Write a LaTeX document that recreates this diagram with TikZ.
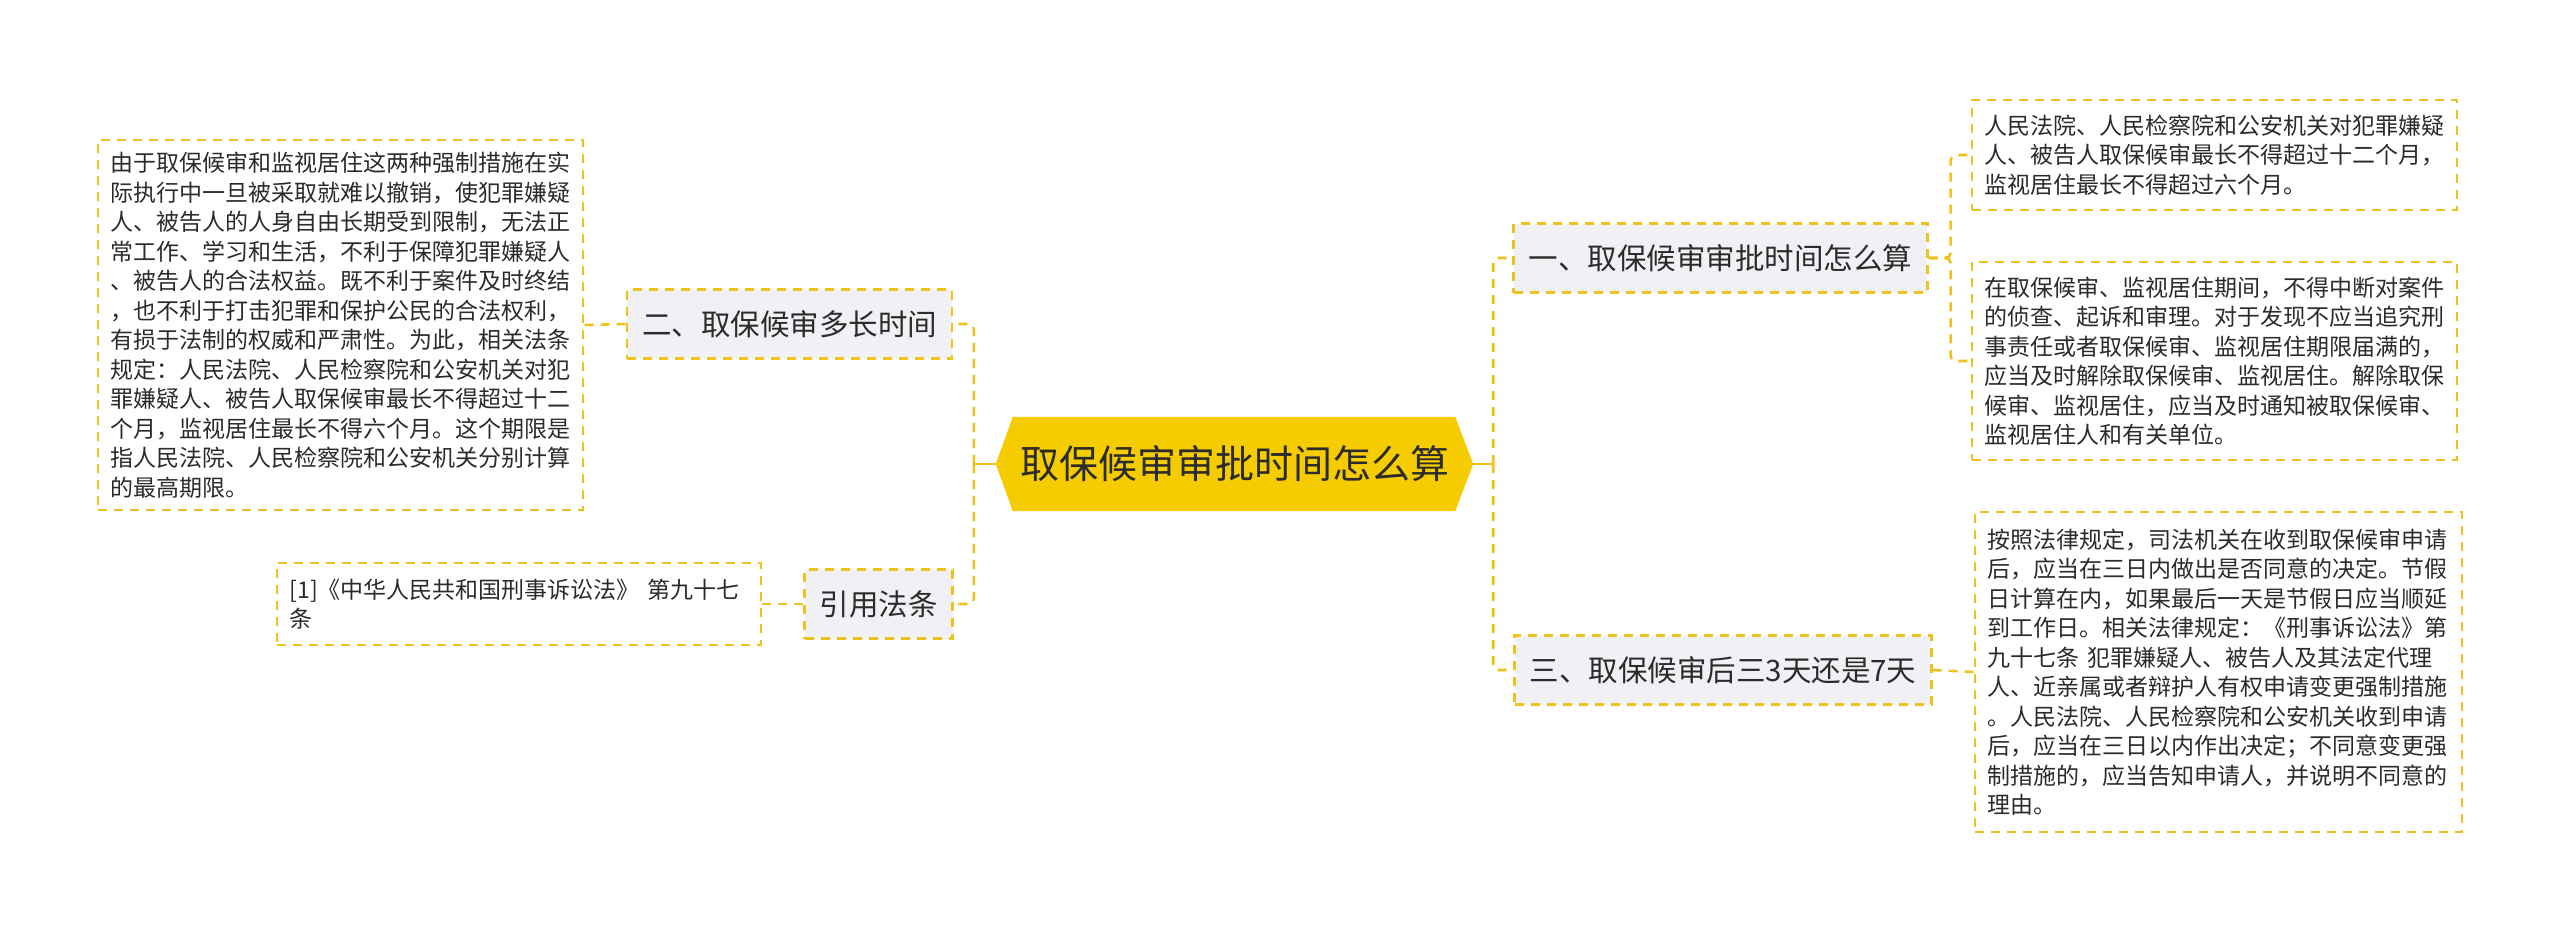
\documentclass[tikz,border=0pt]{standalone}
\usepackage{fontspec}
\setmainfont{Noto Sans CJK SC}
\usetikzlibrary{backgrounds}
\definecolor{lineY}{HTML}{EEC21A}
\definecolor{rootY}{HTML}{F5CC00}
\definecolor{boxG}{HTML}{EFF1F4}
\definecolor{txt}{HTML}{2B2B2B}
\begin{document}
\begin{tikzpicture}[x=1pt,y=-1pt,
  dsh/.style={draw=lineY, line width=2.6pt, dash pattern=on 9pt off 7pt},
  conn/.style={dsh, rounded corners=5pt},
  stub/.style={draw=lineY, line width=2.6pt},
  leaf/.style={dsh, fill=white, align=left, inner xsep=12.5pt, inner ysep=0pt,
    font=\fontsize{23}{29.5}\selectfont, text=txt},
  child/.style={dsh, fill=boxG, inner xsep=15pt, inner ysep=0pt, minimum height=69pt,
    font=\fontsize{29.5}{34}\selectfont, text=txt}]
\useasboundingbox (0,0) rectangle (2560,929);

% root
\node[minimum width=477pt, minimum height=94pt, inner sep=0pt,
  font=\fontsize{39}{45}\selectfont, text=txt] (root) at (1234.5,464) {取保候审审批时间怎么算};
\begin{scope}[on background layer]
  \fill[white] (0,0) rectangle (2560,929);
  \fill[rootY] (root.west) -- ([xshift=17pt]root.north west) -- ([xshift=-18pt]root.north east)
    -- (root.east) -- ([xshift=-18pt]root.south east) -- ([xshift=17pt]root.south west) -- cycle;
\end{scope}

% children
\node[child] (c1) at (1720.5,258) {一、取保候审审批时间怎么算};
\node[child] (c3) at (1723,670) {三、取保候审后三3天还是7天};
\node[child] (c2) at (789.5,324) {二、取保候审多长时间};
\node[child] (ref) at (878.5,604) {引用法条};

% leaves
\node[leaf, text width=460pt, minimum height=370pt] (leftbox) at (340.5,325) {%
由于取保候审和监视居住这两种强制措施在实\\
际执行中一旦被采取就难以撤销，使犯罪嫌疑\\
人、被告人的人身自由长期受到限制，无法正\\
常工作、学习和生活，不利于保障犯罪嫌疑人\\
、被告人的合法权益。既不利于案件及时终结\\
，也不利于打击犯罪和保护公民的合法权利，\\
有损于法制的权威和严肃性。为此，相关法条\\
规定：人民法院、人民检察院和公安机关对犯\\
罪嫌疑人、被告人取保候审最长不得超过十二\\
个月，监视居住最长不得六个月。这个期限是\\
指人民法院、人民检察院和公安机关分别计算\\
的最高期限。};

\node[leaf, text width=459pt, minimum height=82pt] (cite) at (519,604) {%
[1]《中华人民共和国刑事诉讼法》 第九十七\\
条};

\node[leaf, text width=460pt, minimum height=110pt] (leaf1) at (2214.5,155) {%
人民法院、人民检察院和公安机关对犯罪嫌疑\\
人、被告人取保候审最长不得超过十二个月，\\
监视居住最长不得超过六个月。};

\node[leaf, text width=460pt, minimum height=198pt] (leaf2) at (2214.5,361) {%
在取保候审、监视居住期间，不得中断对案件\\
的侦查、起诉和审理。对于发现不应当追究刑\\
事责任或者取保候审、监视居住期限届满的，\\
应当及时解除取保候审、监视居住。解除取保\\
候审、监视居住，应当及时通知被取保候审、\\
监视居住人和有关单位。};

\node[leaf, text width=462pt, minimum height=320pt] (leaf3) at (2218.5,672) {%
按照法律规定，司法机关在收到取保候审申请\\
后，应当在三日内做出是否同意的决定。节假\\
日计算在内，如果最后一天是节假日应当顺延\\
到工作日。相关法律规定：《刑事诉讼法》第\\
九十七条 犯罪嫌疑人、被告人及其法定代理\\
人、近亲属或者辩护人有权申请变更强制措施\\
。人民法院、人民检察院和公安机关收到申请\\
后，应当在三日以内作出决定；不同意变更强\\
制措施的，应当告知申请人，并说明不同意的\\
理由。};

% connectors
\coordinate (lj) at ([xshift=-22pt]root.west);
\coordinate (rj) at ([xshift=20pt]root.east);
\draw[stub] (root.west) -- (lj);
\draw[stub] (root.east) -- (rj);
\draw[conn] (lj) |- (c2.east);
\draw[conn] (lj) |- (ref.east);
\draw[conn] (rj) |- (c1.west);
\draw[conn] (rj) |- (c3.west);
\draw[conn] (c1.east) -- ++(22,0) |- (leaf1.west);
\draw[conn] (c1.east) -- ++(22,0) |- (leaf2.west);
\draw[conn] (c3.east) -- (leaf3.west);
\draw[conn] (c2.west) -- (leftbox.east);
\draw[conn] (ref.west) -- (cite.east);
\end{tikzpicture}
\end{document}
